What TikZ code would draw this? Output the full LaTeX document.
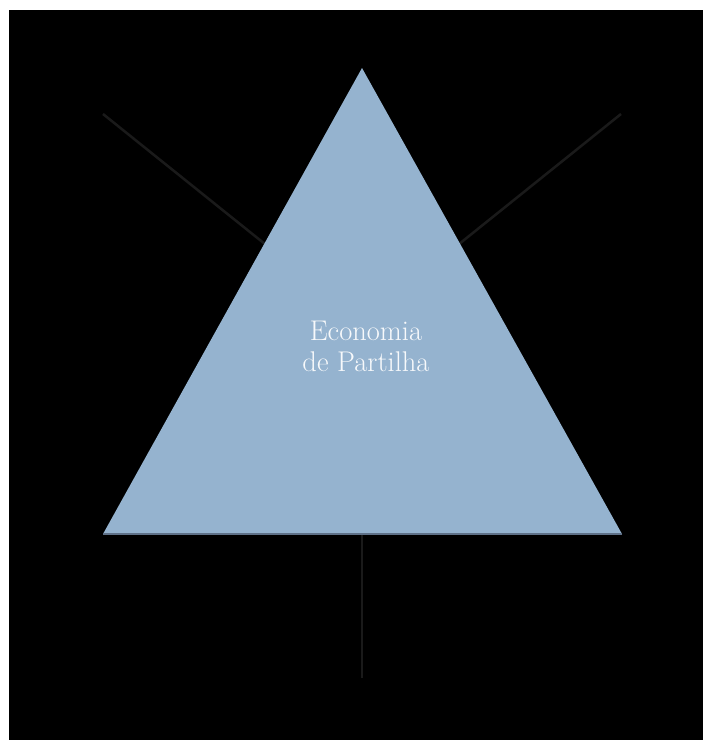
\documentclass[tikz,border=0pt]{standalone}
\definecolor{triblue}{HTML}{95B3CF}
\definecolor{spoke}{HTML}{1A1A1A}
\definecolor{baseedge}{HTML}{5F7188}
\begin{document}
\begin{tikzpicture}[x=1pt,y=-1pt,every node/.style={font=\fontsize{28.5}{31}\selectfont}]
  \useasboundingbox (0,0) rectangle (703,740);
  \fill[white] (0,0) rectangle (703,740);
  \fill[black] (9,10) rectangle (703,740);
  % spokes, behind the triangle
  \coordinate (c) at (362,322);
  \coordinate (l) at (103,114);
  \coordinate (r) at (621,114);
  \coordinate (b) at (362,678);
  \draw[spoke,line width=2.5] (l) -- (c);
  \draw[spoke,line width=2.5] (r) -- (c);
  \draw[spoke,line width=2.5] (b) -- (c);
  % triangle
  \coordinate (top) at (362,68);
  \coordinate (bl) at (103,534);
  \coordinate (br) at (622,534);
  \fill[triblue] (top) -- (bl) -- (br) -- cycle;
  \draw[baseedge,line width=1.2] (bl) -- (br);
  \node[text=white!92!triblue,align=center] (lbl) at (366,346) {Economia\\de Partilha};
\end{tikzpicture}
\end{document}
